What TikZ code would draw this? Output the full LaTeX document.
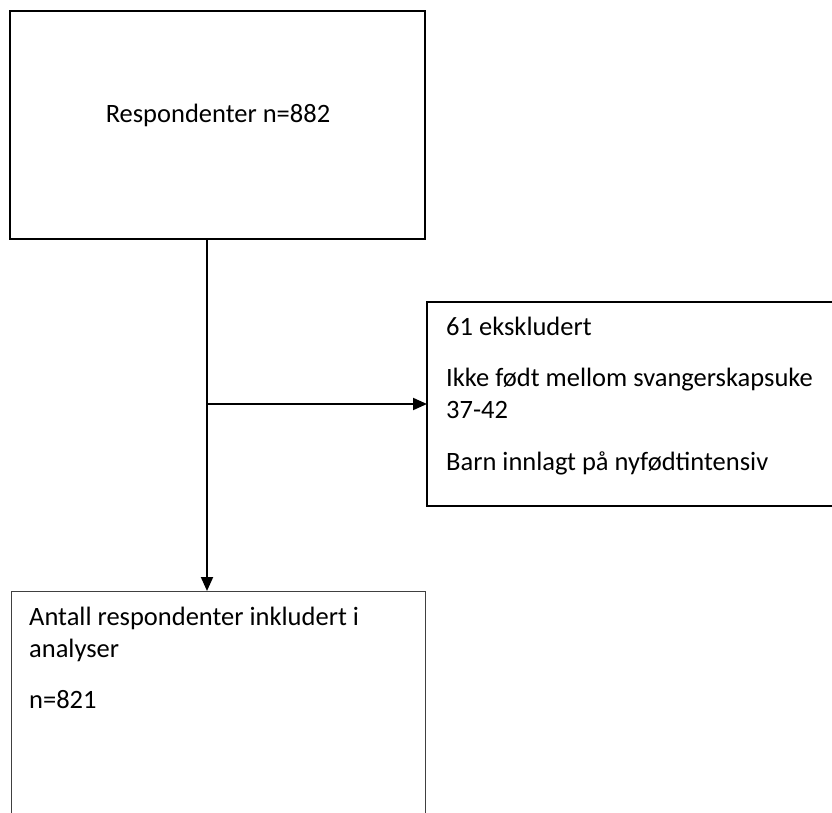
\documentclass[tikz,border=0pt]{standalone}
\usepackage{fontspec}
\setmainfont{Carlito}
\usetikzlibrary{arrows.meta}
\tikzset{
  flowbox/.style={rectangle,draw,line width=2pt,outer sep=0pt,inner sep=0pt},
  thinbox/.style={rectangle,draw=black!75,line width=1pt,outer sep=0pt,inner sep=0pt},
  flowtext/.style={font=\fontsize{26.5pt}{32pt}\selectfont,inner sep=0pt},
  flowarrow/.style={line width=2pt,-{Triangle[length=14pt,width=12pt]}}
}
\begin{document}
\begin{tikzpicture}[x=1pt,y=-1pt]
  \useasboundingbox (0,0) rectangle (832,813);

  \node[flowbox,minimum width=415pt,minimum height=228pt,anchor=north west] (resp) at (10,11) {};
  \node[flowbox,minimum width=440pt,minimum height=204pt,anchor=north west] (excl) at (427,302) {};
  \node[thinbox,minimum width=414pt,minimum height=260pt,anchor=north west] (incl) at (11,591) {};

  \node[flowtext,anchor=base] (resplabel) at (218,123) {Respondenter n=882};

  \node[flowtext,anchor=base west] (excla) at (446,335) {61 ekskludert};
  \node[flowtext,anchor=base west] (exclb) at (446,386) {Ikke født mellom svangerskapsuke};
  \node[flowtext,anchor=base west] (exclc) at (446,418) {37-42};
  \node[flowtext,anchor=base west] (excld) at (446,470) {Barn innlagt på nyfødtintensiv};

  \node[flowtext,anchor=base west] (incla) at (29,625) {Antall respondenter inkludert i};
  \node[flowtext,anchor=base west] (inclb) at (29,657) {analyser};
  \node[flowtext,anchor=base west] (inclc) at (29,708) {n=821};

  \coordinate (split) at (207,404);
  \draw[line width=2pt] (resp.south -| split) -- (split);
  \draw[flowarrow] (split) -- (excl.west);
  \draw[flowarrow] (split) -- (incl.north -| split);
\end{tikzpicture}
\end{document}
